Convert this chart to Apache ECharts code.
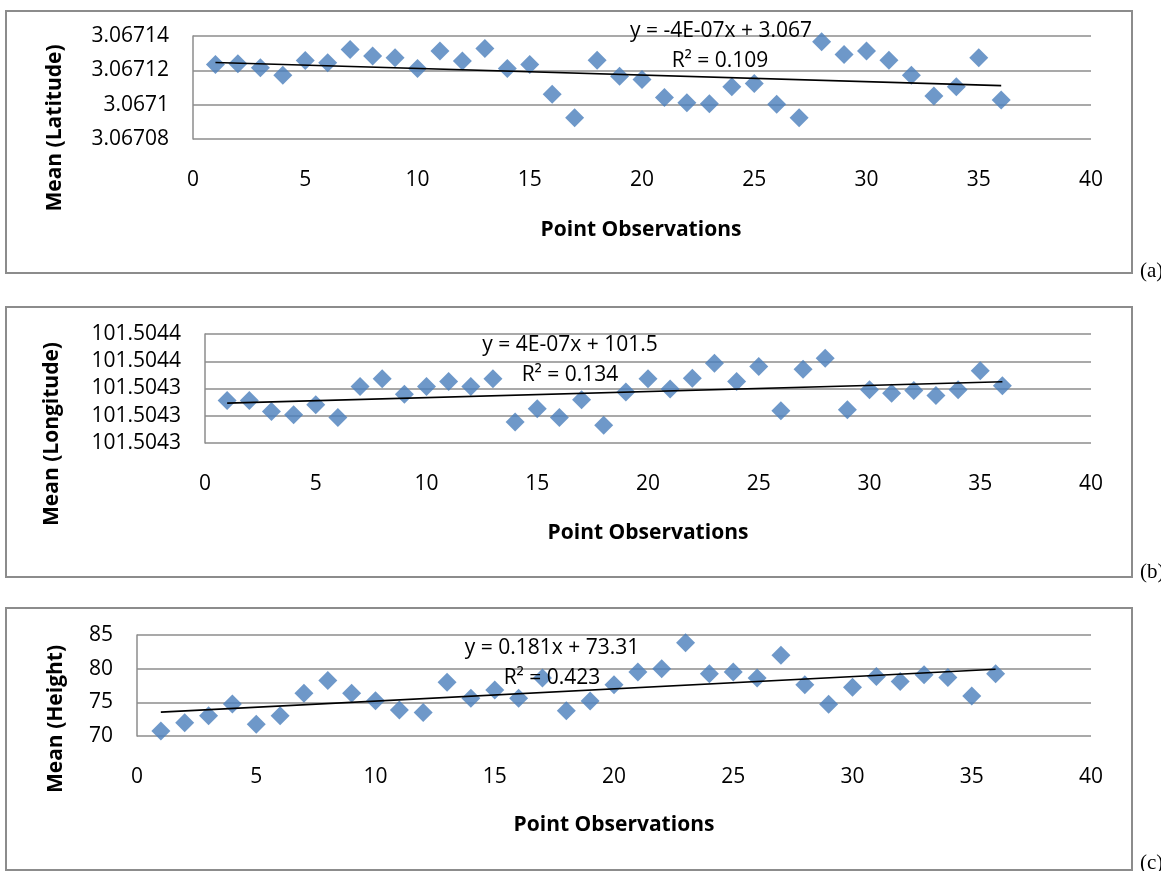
<!DOCTYPE html>
<html>
<head>
<meta charset="utf-8">
<script src="https://cdn.jsdelivr.net/npm/echarts@6/dist/echarts.min.js"></script>
<style>
html,body{margin:0;padding:0;background:#fff;}
#chart{width:1161px;height:871px;}
</style>
</head>
<body>
<div id="chart"></div>
<script>
// ---------- data ----------
const observations = Array.from({length: 36}, (_, i) => i + 1);

const latitudeMeans = [
  3.0671234, 3.0671238, 3.0671215, 3.0671172, 3.0671258, 3.0671244, 3.0671321, 3.0671283, 3.0671273,
  3.0671211, 3.0671313, 3.0671255, 3.0671327, 3.0671211, 3.0671234, 3.0671060, 3.0670924, 3.0671259,
  3.0671166, 3.0671147, 3.0671042, 3.0671011, 3.0671005, 3.0671104, 3.0671124, 3.0671002, 3.0670924,
  3.0671366, 3.0671292, 3.0671312, 3.0671259, 3.0671172, 3.0671050, 3.0671104, 3.0671273, 3.0671027
];

const longitudeMeans = [
  101.5043356, 101.5043356, 101.5043316, 101.5043304, 101.5043340, 101.5043294, 101.5043407, 101.5043436, 101.5043379,
  101.5043407, 101.5043426, 101.5043407, 101.5043436, 101.5043277, 101.5043326, 101.5043294, 101.5043359, 101.5043265,
  101.5043387, 101.5043436, 101.5043398, 101.5043438, 101.5043493, 101.5043426, 101.5043481, 101.5043318, 101.5043471,
  101.5043511, 101.5043322, 101.5043395, 101.5043383, 101.5043393, 101.5043374, 101.5043395, 101.5043465, 101.5043410
];

const heightMeans = [
  70.75, 71.95, 73.00, 74.75, 71.75, 73.00, 76.36, 78.25, 76.36,
  75.25, 73.85, 73.50, 78.00, 75.60, 76.85, 75.60, 78.60, 73.75,
  75.20, 77.60, 79.50, 80.00, 83.85, 79.25, 79.50, 78.60, 82.00,
  77.60, 74.70, 77.25, 78.85, 78.10, 79.10, 78.70, 75.95, 79.25
];

const xTicks = {min: 0, max: 40, interval: 5};
const latTicks = {min: 3.06708, max: 3.06714, interval: 0.00002};
const lonTicks = {min: 101.50432, max: 101.50436, interval: 0.00001};
const hgtTicks = {min: 70, max: 85, interval: 5};

const yTitles = ['Mean (Latitude)', 'Mean (Longitude)', 'Mean (Height)'];
const xTitle = 'Point Observations';
const trendEquations = ['y = -4E-07x + 3.067', 'y = 4E-07x + 101.5', 'y = 0.181x + 73.31'];
const trendR2 = ['R\u00B2 = 0.109', 'R\u00B2 = 0.134', 'R\u00B2 = 0.423'];
const panelTags = ['(a)', '(b)', '(c)'];

// ---------- helpers ----------
function linearFit(xs, ys) {
  const n = xs.length;
  let sx = 0, sy = 0, sxx = 0, sxy = 0;
  for (let i = 0; i < n; i++) { sx += xs[i]; sy += ys[i]; sxx += xs[i]*xs[i]; sxy += xs[i]*ys[i]; }
  const b = (n*sxy - sx*sy) / (n*sxx - sx*sx);
  const a = (sy - b*sx) / n;
  return {a, b};
}
function trendData(xs, ys) {
  const f = linearFit(xs, ys);
  const x0 = xs[0], x1 = xs[xs.length - 1];
  return [[x0, f.a + f.b*x0], [x1, f.a + f.b*x1]];
}

const FONT = 'Open Sans';
const GRAY = '#8c8c8c';
const BLUE = '#4a7ebb';
const TICK_SIZE = 21;
const TITLE_SIZE = 21;
const NOTE_SIZE = 21;

const panels = [
  {values: latitudeMeans, ticks: latTicks, grid: {left: 193, top: 36, width: 898, height: 103},
   fmt: v => String(parseFloat(v.toFixed(5)))},
  {values: longitudeMeans, ticks: lonTicks, grid: {left: 205, top: 334, width: 886, height: 109},
   fmt: v => (Math.round(Math.round(v*1e5)/10)/1e4).toFixed(4)},
  {values: heightMeans, ticks: hgtTicks, grid: {left: 137, top: 635, width: 954, height: 101},
   fmt: v => String(v)}
];

const frames = [
  {x: 6, y: 11, w: 1126, h: 262},
  {x: 6, y: 307, w: 1126, h: 270},
  {x: 6, y: 608, w: 1126, h: 262}
];
const yTitlePos = [[55, 128], [52, 434], [56, 719]];
const xTitlePos = [[641, 230], [648, 533], [614, 825]];
const eqPos = [[721, 31], [570, 345], [552, 648]];
const r2Pos = [[720, 61], [570, 375], [552, 678]];
const tagPos = [[1140, 271], [1140, 572], [1140, 863]];

const grids = [], xAxes = [], yAxes = [], series = [], graphics = [];

panels.forEach((p, i) => {
  grids.push(Object.assign({containLabel: false, outerBoundsMode: 'none'}, p.grid));
  xAxes.push({
    type: 'value', gridIndex: i, min: xTicks.min, max: xTicks.max, interval: xTicks.interval,
    axisLine: {show: false}, axisTick: {show: false}, splitLine: {show: false},
    axisLabel: {color: '#000', fontFamily: FONT, fontSize: TICK_SIZE, margin: 31}
  });
  yAxes.push({
    type: 'value', gridIndex: i, min: p.ticks.min, max: p.ticks.max, interval: p.ticks.interval,
    axisLine: {show: true, lineStyle: {color: GRAY, width: 1.5}}, axisTick: {show: false},
    splitLine: {show: true, lineStyle: {color: GRAY, width: 1.5}},
    axisLabel: {color: '#000', fontFamily: FONT, fontSize: TICK_SIZE, margin: 24, formatter: p.fmt}
  });
  series.push({
    type: 'scatter', xAxisIndex: i, yAxisIndex: i, symbol: 'diamond', symbolSize: 19,
    itemStyle: {color: BLUE}, data: observations.map((x, k) => [x, p.values[k]]), z: 2
  });
  series.push({
    type: 'line', xAxisIndex: i, yAxisIndex: i, symbol: 'none', silent: true,
    lineStyle: {color: '#000', width: 1.6}, data: trendData(observations, p.values), z: 3
  });

  const f = frames[i];
  graphics.push({type: 'rect', shape: {x: f.x, y: f.y, width: f.w, height: f.h},
    style: {fill: 'none', stroke: GRAY, lineWidth: 2}, silent: true});
  graphics.push({type: 'text', x: yTitlePos[i][0], y: yTitlePos[i][1], rotation: Math.PI/2,
    style: {text: yTitles[i], fontFamily: FONT, fontWeight: 'bold', fontSize: TITLE_SIZE, fill: '#000',
      align: 'center', verticalAlign: 'middle'}});
  graphics.push({type: 'text', x: xTitlePos[i][0], y: xTitlePos[i][1],
    style: {text: xTitle, fontFamily: FONT, fontWeight: 'bold', fontSize: TITLE_SIZE, fill: '#000',
      align: 'center', verticalAlign: 'middle'}});
  graphics.push({type: 'text', x: eqPos[i][0], y: eqPos[i][1], z: 10,
    style: {text: trendEquations[i], fontFamily: FONT, fontSize: NOTE_SIZE, fill: '#000',
      align: 'center', verticalAlign: 'middle'}});
  graphics.push({type: 'text', x: r2Pos[i][0], y: r2Pos[i][1], z: 10,
    style: {text: trendR2[i], fontFamily: FONT, fontSize: NOTE_SIZE, fill: '#000',
      align: 'center', verticalAlign: 'middle'}});
  graphics.push({type: 'text', x: tagPos[i][0], y: tagPos[i][1],
    style: {text: panelTags[i], fontFamily: 'Liberation Serif', fontSize: 21, fill: '#000',
      align: 'left', verticalAlign: 'middle'}});
});

const chart = echarts.init(document.getElementById('chart'), null, {renderer: 'canvas'});
chart.setOption({
  backgroundColor: '#fff',
  animation: false,
  grid: grids,
  xAxis: xAxes,
  yAxis: yAxes,
  series: series,
  graphic: graphics
});
</script>
</body>
</html>
